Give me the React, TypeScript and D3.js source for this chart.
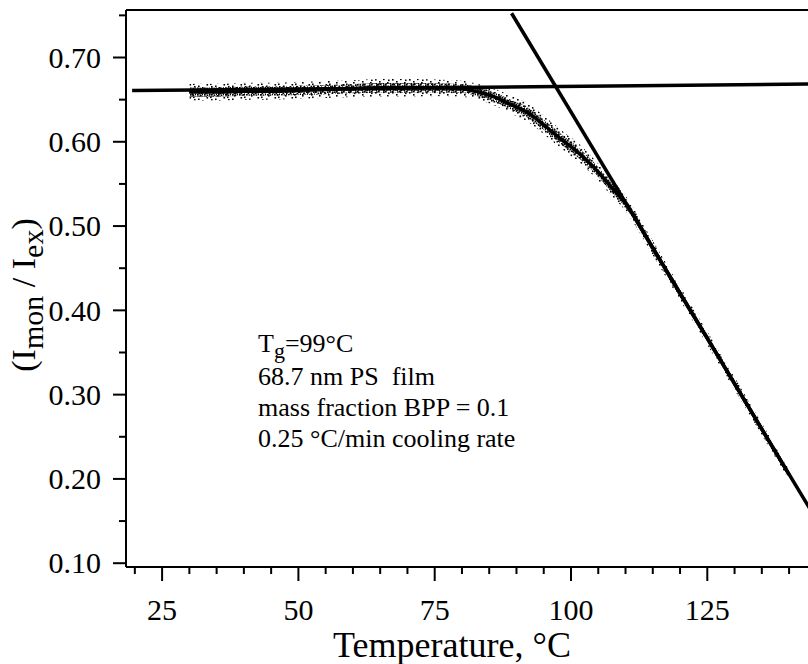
import React from "react";
import * as d3 from "d3";

// ---- data ----
const temps = [30, 35, 40, 45, 50, 55, 60, 65, 70, 75, 80, 83, 86, 89, 92, 95, 98, 101, 104, 107, 110, 115, 120, 125, 130, 135, 140];
const ratio = [0.659, 0.659, 0.66, 0.66, 0.661, 0.662, 0.663, 0.664, 0.664, 0.664, 0.663, 0.659, 0.653, 0.644, 0.635, 0.62, 0.604, 0.589, 0.571, 0.549, 0.527, 0.474, 0.42, 0.367, 0.313, 0.259, 0.205];
const spread = [0.01, 0.01, 0.01, 0.01, 0.01, 0.01, 0.01, 0.0105, 0.0105, 0.01, 0.0095, 0.0095, 0.01, 0.0105, 0.011, 0.011, 0.011, 0.011, 0.0105, 0.01, 0.009, 0.0085, 0.008, 0.008, 0.0075, 0.007, 0.006];

const glassT = [19.5, 146];
const glassV = [0.6607, 0.6687];
const meltT = [89.1, 146];
const meltV = [0.7525, 0.141];

const xMajor = [25, 50, 75, 100, 125];
const xMinor = [20, 30, 35, 40, 45, 55, 60, 65, 70, 80, 85, 90, 95, 105, 110, 115, 120, 130, 135, 140];
const yMajor = [0.1, 0.2, 0.3, 0.4, 0.5, 0.6, 0.7];
const yMinor = [0.15, 0.25, 0.35, 0.45, 0.55, 0.65, 0.75];

const notes = ["68.7 nm PS  film", "mass fraction BPP = 0.1", "0.25 °C/min cooling rate"];

const FONT = "'Liberation Serif', 'Times New Roman', serif";

// stipple tile positions (a style, not data)
const dotsA = [[1, 1], [5, 3], [9, 0.5], [13, 4], [2.5, 6], [7, 8], [11, 7.5], [15, 9], [0.5, 10], [4, 11], [9.5, 11.5], [14, 1.5], [6, 5.5], [12.5, 10.8]];
const dotsB = [[0, 0], [2.5, 1.5], [5, 0.3], [1, 3], [3.6, 3.4], [6, 2.4], [0.4, 5.2], [4.4, 5.6], [6.2, 4.6], [2.2, 5]];

export default function App() {
  const W = 808, H = 664;
  const x = d3.scaleLinear().domain([25, 125]).range([162.1, 707.3]);
  const y = d3.scaleLinear().domain([0.1, 0.7]).range([563.2, 57.5]);
  const left = 126, top = 10, bottom = 567;

  const pts = temps.map((t, i) => ({ t, v: ratio[i], s: spread[i] }));
  const area = (k: number) =>
    d3.area<any>().x(d => x(d.t)).y0(d => y(d.v - d.s * k)).y1(d => y(d.v + d.s * k)).curve(d3.curveMonotoneX)(pts) || "";
  const core = d3.line<any>().x(d => x(d.t)).y(d => y(d.v)).curve(d3.curveMonotoneX);
  const seg = (ts: number[], vs: number[]) => d3.line<number>().x(t => x(t)).y((t, i) => y(vs[i]))(ts) || "";

  return (
    <svg width={W} height={H} style={{ position: "absolute", left: 0, top: 0, background: "#fff" }} fontFamily={FONT}>
      <defs>
        <pattern id="stip" width="17" height="13" patternUnits="userSpaceOnUse">
          {dotsA.map(([a, b], i) => <rect key={i} x={a} y={b} width={1.6} height={1.6} fill="#000" />)}
        </pattern>
        <pattern id="stip2" width="7" height="7" patternUnits="userSpaceOnUse">
          {dotsB.map(([a, b], i) => <rect key={i} x={a} y={b} width={1.7} height={1.7} fill="#000" />)}
        </pattern>
        <clipPath id="plot">
          <rect x={left} y={top} width={W - left} height={bottom - top} />
        </clipPath>
      </defs>

      <g clipPath="url(#plot)">
        <path d={area(1)} fill="url(#stip)" />
        <path d={area(0.55)} fill="url(#stip2)" />
        <path d={core(pts) || ""} fill="none" stroke="#000" strokeWidth={3.5} />
        <path d={seg(glassT, glassV)} fill="none" stroke="#000" strokeWidth={3.5} />
        <path d={seg(meltT, meltV)} fill="none" stroke="#000" strokeWidth={3.5} />
      </g>

      {/* frame */}
      <line x1={left} y1={top} x2={W} y2={top} stroke="#000" strokeWidth={2} />
      <line x1={left} y1={top} x2={left} y2={bottom} stroke="#000" strokeWidth={2} />
      <line x1={left} y1={bottom} x2={W} y2={bottom} stroke="#000" strokeWidth={2} />

      {/* y ticks */}
      {yMajor.map(v => (
        <g key={"ym" + v}>
          <line x1={left - 13} x2={left} y1={y(v)} y2={y(v)} stroke="#000" strokeWidth={2} />
          <text x={101} y={y(v)} dy="0.34em" textAnchor="end" fontSize={30} fontFamily={FONT}>{v.toFixed(2)}</text>
        </g>
      ))}
      {yMinor.map(v => (
        <line key={"yn" + v} x1={left - 7} x2={left} y1={y(v)} y2={y(v)} stroke="#000" strokeWidth={2} />
      ))}

      {/* x ticks */}
      {xMajor.map(t => (
        <g key={"xm" + t}>
          <line x1={x(t)} x2={x(t)} y1={bottom} y2={bottom + 14} stroke="#000" strokeWidth={2} />
          <text x={x(t)} y={620} textAnchor="middle" fontSize={30} fontFamily={FONT}>{t}</text>
        </g>
      ))}
      {xMinor.map(t => (
        <line key={"xn" + t} x1={x(t)} x2={x(t)} y1={bottom} y2={bottom + 7} stroke="#000" strokeWidth={2} />
      ))}

      {/* axis titles */}
      <text x={452} y={657} textAnchor="middle" fontSize={36} fontFamily={FONT}>Temperature, °C</text>
      <text transform="translate(35,295) rotate(-90)" textAnchor="middle" fontSize={34} fontFamily={FONT}>
        (I<tspan fontSize={30} dy={8}>mon</tspan><tspan dy={-8}> / I</tspan><tspan fontSize={30} dy={8}>ex</tspan><tspan dy={-8}>)</tspan>
      </text>

      {/* annotation */}
      <text x={258} y={352} fontSize={26} fontFamily={FONT}>
        T<tspan fontSize={22} dy={6}>g</tspan><tspan dy={-6}>=99°C</tspan>
      </text>
      {notes.map((n, i) => (
        <text key={n} x={258} y={385 + i * 31} fontSize={26} fontFamily={FONT} style={{ whiteSpace: "pre" }}>{n}</text>
      ))}
    </svg>
  );
}
